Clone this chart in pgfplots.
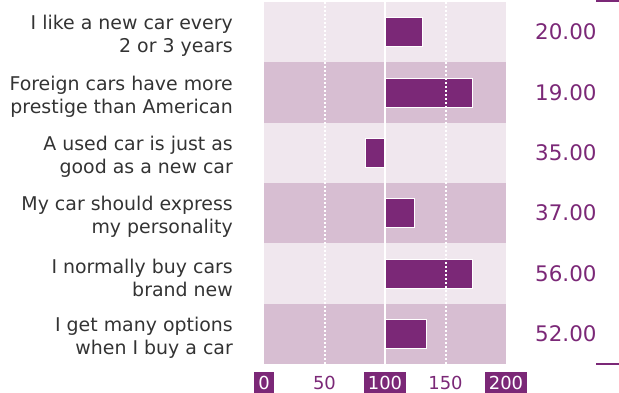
\documentclass[border=0pt]{standalone}
\usepackage{pgfplots}
\usepackage{pgfplotstable}
\pgfplotsset{compat=1.18}
\usepackage{fontspec}
\setmainfont{DejaVu Sans}
\definecolor{cp}{RGB}{123,40,119}
\definecolor{bandA}{RGB}{240,231,238}
\definecolor{bandB}{RGB}{215,190,210}
\definecolor{labgray}{RGB}{51,51,51}
\newcommand\tb[1]{{\setlength\fboxsep{4bp}\colorbox{cp}{\textcolor{white}{#1}}}}
\newcommand\tn[1]{{\setlength\fboxsep{4bp}\colorbox{white}{\textcolor{cp}{#1}}}}
\pgfplotstableread{
row v
1 131
2 172
3 84
4 124
5 172
6 134
}\bars
\begin{document}
\begin{tikzpicture}
\path[use as bounding box] (0,0) rectangle (619bp,393bp);
\begin{axis}[
 at={(264bp,29bp)}, anchor=south west, scale only axis, width=242bp, height=362bp,
 xmin=-100, xmax=100, ymin=0.5, ymax=6.5, y dir=reverse,
 axis line style={draw=none}, major tick length=0pt,
 xtick={-100,-50,0,50,100},
 xticklabels={\tb{0},\tn{50},\tb{100},\tn{150},\tb{200}},
 xticklabel style={font=\fontsize{18}{20}\selectfont, inner sep=0pt, anchor=north, yshift=-8bp},
 ytick={1,2,3,4,5,6},
 yticklabels={{I like a new car every\\2 or 3 years},{Foreign cars have more\\prestige than American},{A used car is just as\\good as a new car},{My car should express\\my personality},{I normally buy cars\\brand new},{I get many options\\when I buy a car}},
 yticklabel style={font=\fontsize{19}{23}\selectfont, text=labgray, align=right, inner sep=0pt, anchor=east, xshift=-31bp, yshift=-4bp},
 clip=false,
]
\addplot[fill=bandA, draw=none] coordinates {(-100,0.5) (100,0.5) (100,1.5) (-100,1.5)} -- cycle;
\addplot[fill=bandB, draw=none] coordinates {(-100,1.5) (100,1.5) (100,2.5) (-100,2.5)} -- cycle;
\addplot[fill=bandA, draw=none] coordinates {(-100,2.5) (100,2.5) (100,3.5) (-100,3.5)} -- cycle;
\addplot[fill=bandB, draw=none] coordinates {(-100,3.5) (100,3.5) (100,4.5) (-100,4.5)} -- cycle;
\addplot[fill=bandA, draw=none] coordinates {(-100,4.5) (100,4.5) (100,5.5) (-100,5.5)} -- cycle;
\addplot[fill=bandB, draw=none] coordinates {(-100,5.5) (100,5.5) (100,6.5) (-100,6.5)} -- cycle;
\addplot[xbar, bar width=29bp, fill=cp, draw=white, line width=0.6bp] table[x expr=\thisrow{v}-100, y=row] {\bars};
\draw[white, line width=2bp, dash pattern=on 2bp off 2bp] (axis cs:-50,0.5) -- (axis cs:-50,6.5);
\draw[white, line width=2bp, dash pattern=on 2bp off 2bp] (axis cs:50,0.5) -- (axis cs:50,6.5);
\draw[white, line width=2bp] (axis cs:0,0.5) -- (axis cs:0,6.5);
\end{axis}
\begin{axis}[
 at={(264bp,29bp)}, anchor=south west, scale only axis, width=242bp, height=362bp,
 xmin=0, xmax=1, ymin=0.5, ymax=6.5, y dir=reverse,
 hide x axis, axis y line*=right, y axis line style={draw=none}, major tick length=0pt,
 ytick={1,2,3,4,5,6},
 yticklabels={20.00,19.00,35.00,37.00,56.00,52.00},
 yticklabel style={font=\fontsize{21.5}{24}\selectfont, text=cp, inner sep=0pt, anchor=west, xshift=29bp},
]
\addplot[draw=none] coordinates {(0,1)};
\end{axis}
\draw[cp, line width=2bp] (596bp,392bp) -- (619bp,392bp);
\draw[cp, line width=2bp] (596bp,29bp) -- (619bp,29bp);
\end{tikzpicture}
\end{document}
